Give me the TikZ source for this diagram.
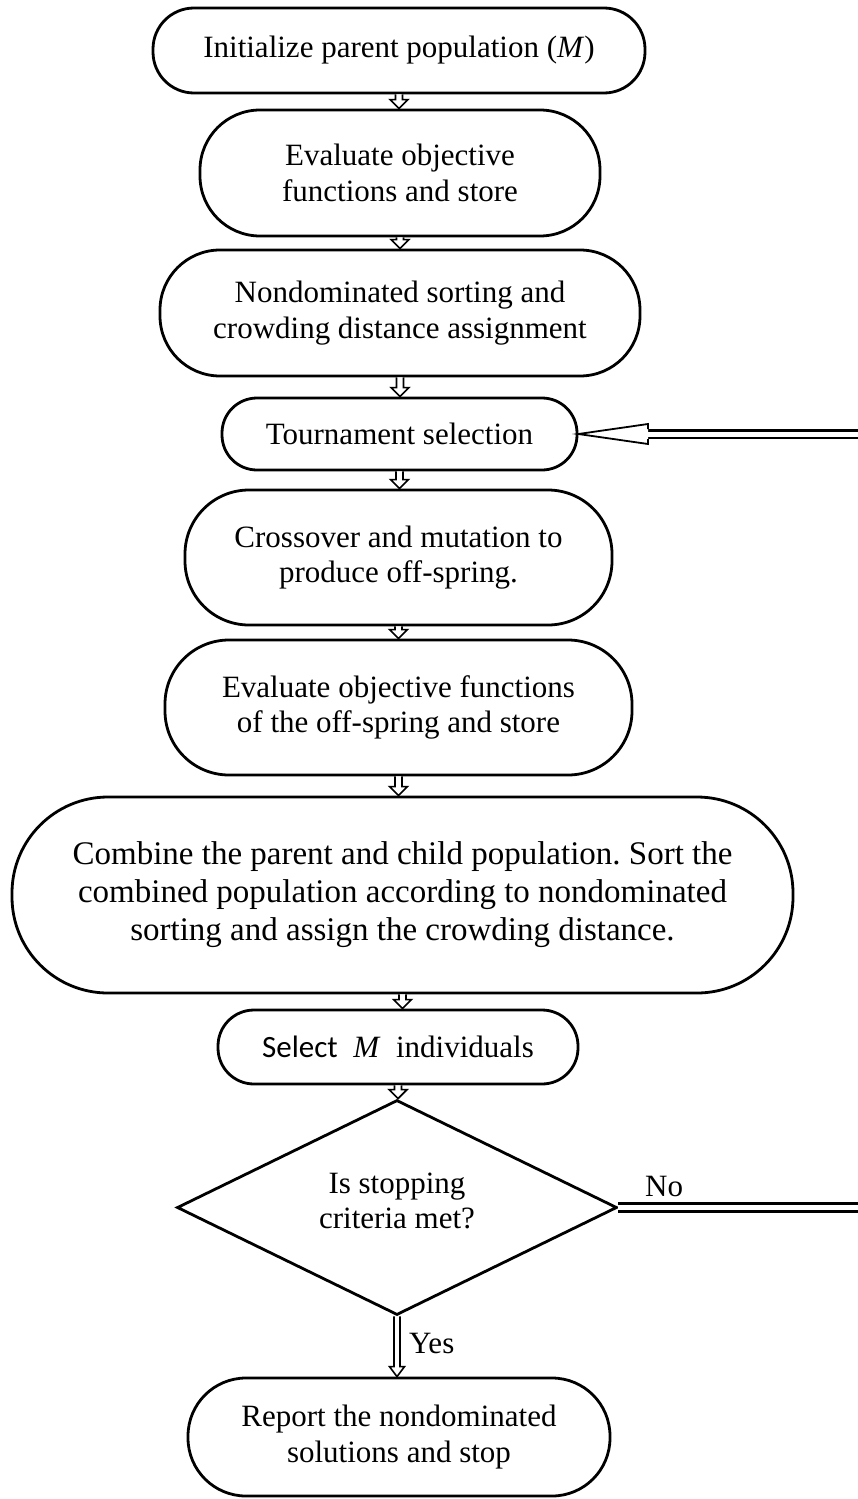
\documentclass[tikz,border=0pt]{standalone}
\usepackage{fontspec}
\setmainfont{Liberation Serif}
\newfontfamily\sanslabel{Carlito}
\usetikzlibrary{shapes.geometric,calc}
\frenchspacing

\tikzset{
  box/.style={draw, line width=2.8pt, rounded corners=#1, align=center,
    inner sep=0pt, fill=white},
  decision/.style={draw, diamond, line width=2.8pt, inner sep=0pt,
    minimum width=440pt, minimum height=215pt, aspect=2.05},
  flowline/.style={draw, line width=1.6pt, fill=white, line join=miter},
  loopline/.style={draw, double, double distance=5pt, line width=2.6pt},
  tag/.style={inner sep=0pt, align=center},
}

% hollow block arrow from the bottom of one node to the top of the next
\newcommand\flowarrow[2]{%
  \draw[flowline] let \p1=(#1.south), \p2=(#2.north) in
    (\x1-3.5pt,\y1) -- (\x1-3.5pt,\y2+9pt) -- (\x1-9pt,\y2+9pt) -- (\x1,\y2)
    -- (\x1+9pt,\y2+9pt) -- (\x1+3.5pt,\y2+9pt) -- (\x1+3.5pt,\y1);}

\begin{document}
\begin{tikzpicture}[x=1pt,y=-1pt,font=\fontsize{31pt}{35.5pt}\selectfont]
\useasboundingbox (0,0) rectangle (858,1499);
\clip (0,0) rectangle (858,1499);

\node[box=41, minimum width=492pt, minimum height=85pt] (init) at (399,50.5)
  {Initialize parent population (\textit{M})};
\node[box=60, minimum width=400pt, minimum height=126pt] (eval1) at (400,173)
  {Evaluate objective\\functions and store};
\node[box=60, minimum width=480pt, minimum height=126pt] (nds) at (400,313)
  {Nondominated sorting and\\crowding distance assignment};
\node[box=35, minimum width=355pt, minimum height=72pt] (tour) at (399.5,434)
  {Tournament selection};
\node[box=64, minimum width=427pt, minimum height=135pt] (cross) at (398.5,557.5)
  {Crossover and mutation to\\produce off-spring.};
\node[box=64, minimum width=467pt, minimum height=135pt] (eval2) at (398.5,707.5)
  {Evaluate objective functions\\of the off-spring and store};
\node[box=96, minimum width=781pt, minimum height=196pt,
      font=\fontsize{33pt}{38pt}\selectfont] (comb) at (402.5,895)
  {Combine the parent and child population. Sort the\\combined population according to nondominated\\sorting and assign the crowding distance.};
\node[box=36, minimum width=360pt, minimum height=74pt] (sel) at (398,1047)
  {{\sanslabel Select}\ \ \textit{M}\ \ individuals};
\node[decision] (stop) at (397,1207.5) {};
\node[tag] (stoptext) at (397,1201) {Is stopping\\criteria met?};
\node[box=58, minimum width=422pt, minimum height=118pt] (rep) at (399,1437)
  {Report the nondominated\\solutions and stop};

\flowarrow{init}{eval1}
\flowarrow{eval1}{nds}
\flowarrow{nds}{tour}
\flowarrow{tour}{cross}
\flowarrow{cross}{eval2}
\flowarrow{eval2}{comb}
\flowarrow{comb}{sel}
\flowarrow{sel}{stop}

% Yes branch
\draw[flowline] let \p1=(stop.south), \p2=(rep.north) in
  (\x1-3pt,\y1) -- (\x1-3pt,\y2+10pt) -- (\x1-7.5pt,\y2+10pt) -- (\x1,\y2)
  -- (\x1+7.5pt,\y2+10pt) -- (\x1+3pt,\y2+10pt) -- (\x1+3pt,\y1);
\node[tag, anchor=west] (yes) at (409,1343) {Yes};

% No branch: loops back to the tournament selection
\coordinate (headbase) at (648,434);
\draw[loopline] (stop.east) -- (872,1207.5) |- (headbase);
\draw[flowline, line width=1.8pt] let \p1=(headbase) in
  (\x1,\y1+5pt) -- (\x1,\y1+10pt) -- (tour.east) -- (\x1,\y1-10pt) -- (\x1,\y1-5pt);
\node[tag, anchor=south west] (no) at (645,1197) {No};
\end{tikzpicture}
\end{document}
